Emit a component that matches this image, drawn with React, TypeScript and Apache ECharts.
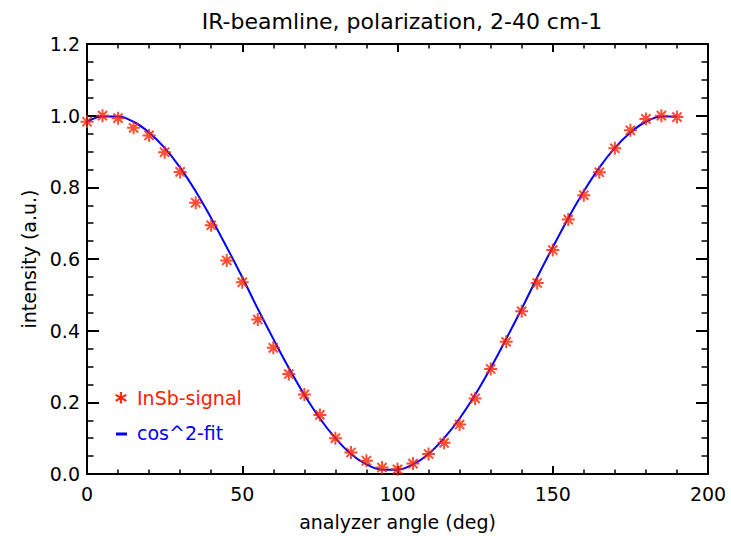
import React, { useEffect, useRef } from "react";
import * as echarts from "echarts";

const angles = [0, 5, 10, 15, 20, 25, 30, 35, 40, 45, 50, 55, 60, 65, 70, 75, 80, 85, 90, 95, 100, 105, 110, 115, 120, 125, 130, 135, 140, 145, 150, 155, 160, 165, 170, 175, 180, 185, 190];
const signal = [0.983, 1.0, 0.993, 0.966, 0.945, 0.898, 0.843, 0.757, 0.694, 0.596, 0.535, 0.431, 0.352, 0.279, 0.222, 0.165, 0.1, 0.06, 0.037, 0.018, 0.013, 0.029, 0.056, 0.087, 0.138, 0.211, 0.293, 0.369, 0.454, 0.533, 0.625, 0.71, 0.778, 0.842, 0.909, 0.959, 0.991, 1.0, 0.996];
const fit = [0.983, 0.998, 0.998, 0.983, 0.953, 0.91, 0.855, 0.789, 0.714, 0.633, 0.549, 0.461, 0.377, 0.296, 0.221, 0.155, 0.1, 0.056, 0.027, 0.012, 0.012, 0.027, 0.056, 0.1, 0.155, 0.221, 0.296, 0.377, 0.461, 0.549, 0.633, 0.714, 0.789, 0.855, 0.91, 0.953, 0.983, 0.998, 0.998];

const titleText = "IR-beamline, polarization, 2-40 cm-1";
const xName = "analyzer angle (deg)";
const yName = "intensity (a.u.)";
const signalName = "InSb-signal";
const fitName = "cos^2-fit";

const RED = "#ff2200";
const BLUE = "#0000ff";
const FONT = "DejaVu Sans";

const star = "path://M0,6L12,6M6,0L6,12M1.76,1.76L10.24,10.24M1.76,10.24L10.24,1.76";

export default function App() {
  const ref = useRef<HTMLDivElement>(null);
  useEffect(() => {
    if (!ref.current) return;
    const chart = echarts.init(ref.current, undefined, { renderer: "svg" });
    const xBase = {
      type: "value" as const,
      min: 0,
      max: 200,
      interval: 50,
      axisLine: { show: true, onZero: false, lineStyle: { color: "#000", width: 2 } },
      axisTick: { show: true, inside: true, length: 8, lineStyle: { color: "#000", width: 2 } },
      minorTick: { show: true, splitNumber: 5, length: 4.5, lineStyle: { color: "#000", width: 1.5 } },
      splitLine: { show: false },
    };
    const yBase = {
      type: "value" as const,
      min: 0,
      max: 1.2,
      interval: 0.2,
      axisLine: { show: true, onZero: false, lineStyle: { color: "#000", width: 2 } },
      axisTick: { show: true, inside: true, length: 12, lineStyle: { color: "#000", width: 2 } },
      minorTick: { show: true, splitNumber: 4, length: 6.5, lineStyle: { color: "#000", width: 1.5 } },
      splitLine: { show: false },
    };
    chart.setOption({
      animation: false,
      backgroundColor: "#fff",
      textStyle: { fontFamily: FONT },
      title: {
        text: titleText,
        left: 397,
        top: 5,
        textAlign: "center",
        textStyle: { fontFamily: FONT, fontSize: 22, fontWeight: "normal", color: "#000" },
      },
      grid: { left: 87, right: 23, top: 44, bottom: 60 },
      xAxis: [
        {
          ...xBase,
          position: "bottom",
          name: xName,
          nameLocation: "middle",
          nameGap: 38,
          nameTextStyle: { fontFamily: FONT, fontSize: 19, color: "#000" },
          axisLabel: { show: true, margin: 10, fontFamily: FONT, fontSize: 19, color: "#000" },
        },
        { ...xBase, position: "top", axisLabel: { show: false } },
      ],
      yAxis: [
        {
          ...yBase,
          position: "left",
          name: yName,
          nameLocation: "middle",
          nameGap: 48,
          nameTextStyle: { fontFamily: FONT, fontSize: 19, color: "#000" },
          axisLabel: {
            show: true,
            margin: 7,
            fontFamily: FONT,
            fontSize: 19,
            color: "#000",
            formatter: (v: number) => v.toFixed(1),
          },
        },
        { ...yBase, position: "right", axisLabel: { show: false } },
      ],
      series: [
        {
          name: fitName,
          type: "line",
          xAxisIndex: 0,
          yAxisIndex: 0,
          data: angles.map((a, i) => [a, fit[i]]),
          smooth: 0.4,
          showSymbol: false,
          symbol: "none",
          lineStyle: { color: BLUE, width: 2 },
          z: 2,
        },
        {
          name: signalName,
          type: "scatter",
          xAxisIndex: 0,
          yAxisIndex: 0,
          data: angles.map((a, i) => [a, signal[i]]),
          symbol: star,
          symbolSize: 13,
          itemStyle: { color: RED, borderColor: RED, borderWidth: 2 },
          z: 3,
        },
      ],
      graphic: [
        {
          type: "text",
          x: 121,
          y: 402,
          style: { text: "*", fill: RED, font: `bold 24px ${FONT}`, textAlign: "center", textVerticalAlign: "middle" },
        },
        {
          type: "text",
          x: 137,
          y: 398,
          style: { text: signalName, fill: RED, font: `19px ${FONT}`, textAlign: "left", textVerticalAlign: "middle" },
        },
        {
          type: "line",
          shape: { x1: 116, y1: 434, x2: 127, y2: 434 },
          style: { stroke: BLUE, lineWidth: 3 },
        },
        {
          type: "text",
          x: 137,
          y: 433,
          style: { text: fitName, fill: BLUE, font: `19px ${FONT}`, textAlign: "left", textVerticalAlign: "middle" },
        },
      ],
    });
    return () => chart.dispose();
  }, []);
  return (
    <div
      ref={ref}
      style={{ position: "fixed", left: 0, top: 0, width: 731, height: 536, background: "#fff" }}
    />
  );
}
